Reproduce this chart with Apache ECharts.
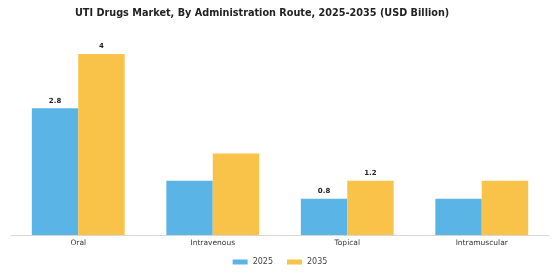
<!DOCTYPE html>
<html>
<head>
    <meta charset="utf-8">
    <title>UTI Drugs Market</title>
    <script src="https://cdn.jsdelivr.net/npm/echarts@6/dist/echarts.min.js"></script>
    <style>
        html, body { margin: 0; padding: 0; background: #fff; }
        #main { width: 560px; height: 280px; }
    </style>
</head>
<body>
<div id="main"></div>
<script type="text/javascript">
    var categories = ['Oral', 'Intravenous', 'Topical', 'Intramuscular'];
    var values2025 = [2.8, 1.2, 0.8, 0.8];
    var values2035 = [4, 1.8, 1.2, 1.2];
    // only these categories carry a value label in the original
    var labelledCategories = ['Oral', 'Topical'];

    function withLabels(values) {
        return values.map(function (v, i) {
            return {
                value: v,
                label: { show: labelledCategories.indexOf(categories[i]) !== -1 }
            };
        });
    }

    var chart = echarts.init(document.getElementById('main'), null, { renderer: 'canvas' });
    var barLabel = {
        position: 'top',
        distance: 4,
        fontFamily: 'DejaVu Sans',
        fontWeight: 'bold',
        fontSize: 7,
        color: '#222'
    };

    var option = {
        animation: false,
        title: {
            text: 'UTI Drugs Market, By Administration Route, 2025-2035 (USD Billion)',
            left: 70,
            top: 3,
            textStyle: {
                fontFamily: 'DejaVu Sans',
                fontWeight: 'bold',
                fontSize: 9.7,
                color: '#222'
            }
        },
        legend: {
            data: ['2025', '2035'],
            bottom: 9,
            left: 'center',
            icon: 'rect',
            itemWidth: 15,
            itemHeight: 5,
            itemGap: 14,
            textStyle: {
                fontFamily: 'DejaVu Sans',
                fontSize: 8,
                color: '#444'
            }
        },
        grid: {
            left: 11,
            right: 11,
            top: 54,
            bottom: 45,
            containLabel: false
        },
        xAxis: {
            type: 'category',
            data: categories,
            axisTick: { show: false },
            axisLine: { lineStyle: { color: '#d6d6d6', width: 1 } },
            axisLabel: {
                fontFamily: 'DejaVu Sans',
                fontSize: 7.5,
                color: '#333',
                margin: 4
            }
        },
        yAxis: {
            type: 'value',
            min: 0,
            max: 4,
            show: false,
            splitLine: { show: false }
        },
        series: [
            {
                name: '2025',
                type: 'bar',
                data: withLabels(values2025),
                itemStyle: { color: '#5BB4E6' },
                label: barLabel,
                barGap: '0%',
                barCategoryGap: '31%'
            },
            {
                name: '2035',
                type: 'bar',
                data: withLabels(values2035),
                itemStyle: { color: '#F8C348' },
                label: barLabel,
                barGap: '0%',
                barCategoryGap: '31%'
            }
        ]
    };

    chart.setOption(option);
</script>
</body>
</html>
